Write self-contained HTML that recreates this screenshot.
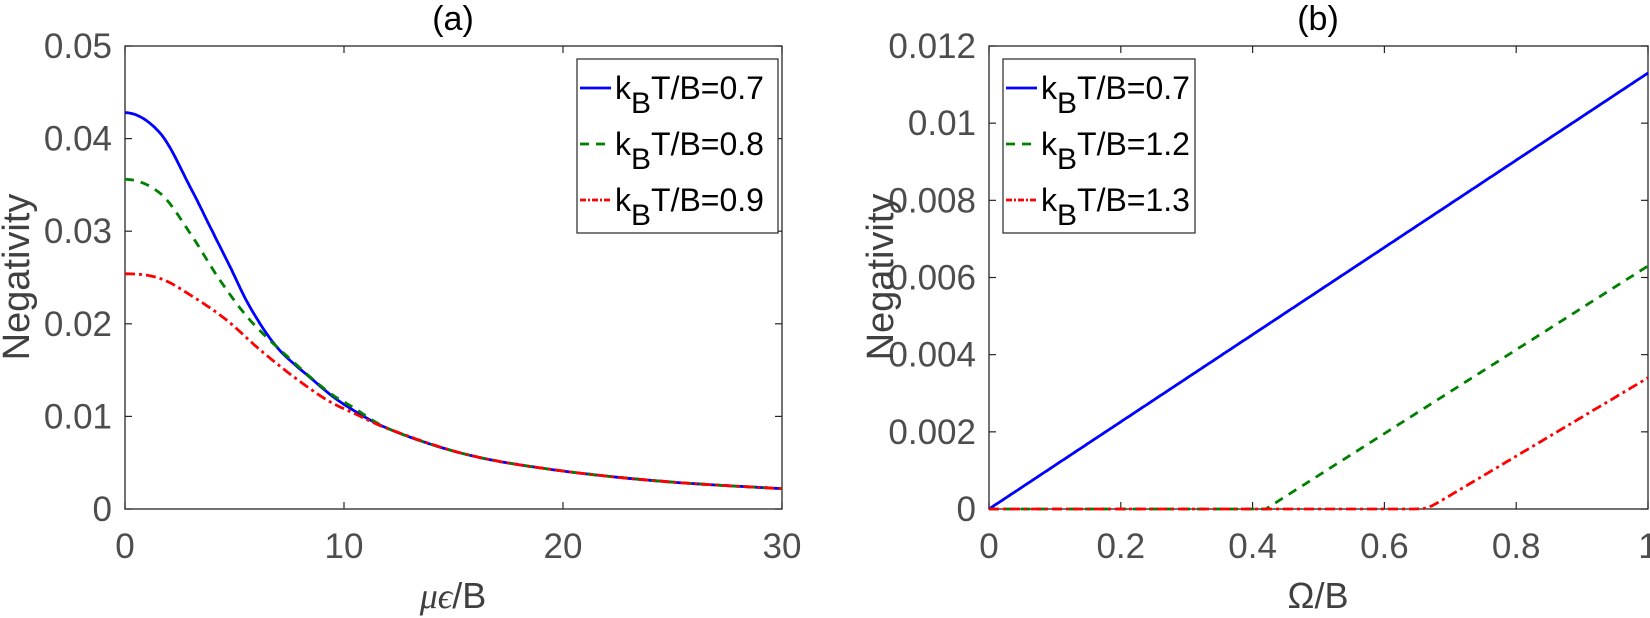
<!DOCTYPE html>
<html><head><meta charset="utf-8"><style>html,body{margin:0;padding:0;background:#fff}svg{display:block}</style></head>
<body>
<svg id="s" width="1650" height="618" viewBox="0 0 1650 618" xmlns="http://www.w3.org/2000/svg" font-family="Liberation Sans, Arial, sans-serif">
<rect width="1650" height="618" fill="#fff"/>
<g id="g"></g>
</svg>
<script>
const NS="http://www.w3.org/2000/svg";const g=document.getElementById('g');
function el(t,a,txt){const e=document.createElementNS(NS,t);for(const k in a)e.setAttribute(k,a[k]);if(txt!==undefined)e.textContent=txt;g.appendChild(e);return e;}
function panel(L,R,T,B,xmin,xmax,xt,xl,ymax,yt,yl){
  el('rect',{x:L,y:T,width:R-L,height:B-T,fill:'none',stroke:'#262626','stroke-width':1.3});
  const X=v=>L+(v-xmin)/(xmax-xmin)*(R-L),Y=v=>B-v/ymax*(B-T);
  xt.forEach((v,i)=>{const x=X(v);el('line',{x1:x,y1:B,x2:x,y2:B-7,stroke:'#262626','stroke-width':1.2});el('line',{x1:x,y1:T,x2:x,y2:T+7,stroke:'#262626','stroke-width':1.2});
    el('text',{x:x,y:558,'text-anchor':'middle','font-size':35,fill:'#4d4d4d'},xl[i]);});
  yt.forEach((v,i)=>{const y=Y(v);el('line',{x1:L,y1:y,x2:L+7,y2:y,stroke:'#262626','stroke-width':1.2});el('line',{x1:R,y1:y,x2:R-7,y2:y,stroke:'#262626','stroke-width':1.2});
    el('text',{x:L-13,y:y+12,'text-anchor':'end','font-size':35,fill:'#4d4d4d'},yl[i]);});
  return [X,Y];
}
function path(pts,color,dash){el('path',{d:'M'+pts.map(p=>p[0].toFixed(1)+','+p[1].toFixed(1)).join('L'),fill:'none',stroke:color,'stroke-width':2.8,'stroke-dasharray':dash||'none'});}
function cr(P,n){ // catmull-rom through points
  const out=[];for(let i=0;i<P.length-1;i++){const p0=P[Math.max(0,i-1)],p1=P[i],p2=P[i+1],p3=P[Math.min(P.length-1,i+2)];
    for(let k=0;k<n;k++){const t=k/n,t2=t*t,t3=t2*t;
      const f=(a,b,c,d)=>0.5*((2*b)+(-a+c)*t+(2*a-5*b+4*c-d)*t2+(-a+3*b-3*c+d)*t3);
      out.push([f(p0[0],p1[0],p2[0],p3[0]),f(p0[1],p1[1],p2[1],p3[1])]);}}
  out.push(P[P.length-1]);return out;}
let [X,Y]=panel(125,782,46,509,0,30,[0,10,20,30],['0','10','20','30'],0.05,[0,0.01,0.02,0.03,0.04,0.05],['0','0.01','0.02','0.03','0.04','0.05']);
const tail=[[12.2,0.0085],[15.75,0.0058],[20,0.0041],[25,0.0029],[30,0.0022]];
const blue=[[-1.6,0.0406],[0,0.0428],[1.6,0.0406],[2.97,0.0348],[3.88,0.0305],[4.79,0.0262],[5.71,0.0218],[6.93,0.0175],[8.45,0.0142],[10,0.0113]].concat(tail);
const green=[[-1.6,0.0341],[0,0.0356],[1.6,0.0341],[2.97,0.0298],[4.34,0.0247],[5.71,0.0204],[7.4,0.0165],[9.2,0.0128],[10.4,0.0110]].concat(tail);
const red=[[-1.6,0.0249],[0,0.0254],[1.6,0.0249],[3.12,0.0229],[4.64,0.0204],[6.16,0.0172],[7.69,0.0143],[9.2,0.0118],[10.4,0.0104]].concat(tail);
[[blue,'#0000ff',null],[green,'#008000','9 7'],[red,'#ff0000','10 4 3 4']].forEach(([P,c,d])=>{
  const pts=cr(P,20).filter(p=>p[0]>=0).map(p=>[X(p[0]),Y(p[1])]);path(pts,c,d);});
[X,Y]=panel(989,1648,46,509,0,1,[0,0.2,0.4,0.6,0.8,1],['0','0.2','0.4','0.6','0.8','1'],0.012,[0,0.002,0.004,0.006,0.008,0.01,0.012],['0','0.002','0.004','0.006','0.008','0.01','0.012']);
function lin(x0,y1,s){const pts=[];for(let i=0;i<=400;i++){const x=i/400;const u=(x-x0)/(1-x0);let v=s>0?s*Math.log(1+Math.exp(u/s)):Math.max(u,0);if(x<x0-3*s)v=0;pts.push([X(x),Y(v*y1)]);}return pts;}
path(lin(0,0.0113,0),'#0000ff');
path(lin(0.42,0.0063,0),'#008000','9 7');
path(lin(0.665,0.0034,0.015),'#ff0000','10 4 3 4');
el('text',{x:453,y:30,'text-anchor':'middle','font-size':34,fill:'#000'},'(a)');
el('text',{x:1318,y:30,'text-anchor':'middle','font-size':34,fill:'#000'},'(b)');
el('text',{x:29,y:277,'text-anchor':'middle','font-size':38,fill:'#404040',transform:'rotate(-90 29 277)'},'Negativity');
el('text',{x:893,y:277,'text-anchor':'middle','font-size':38,fill:'#404040',transform:'rotate(-90 893 277)'},'Negativity');
const xl=el('text',{x:453,y:608,'text-anchor':'middle','font-size':36,fill:'#404040'});
xl.innerHTML='<tspan font-family="Liberation Serif, serif" font-style="italic">μϵ</tspan>/B';
el('text',{x:1318,y:608,'text-anchor':'middle','font-size':36,fill:'#404040'},'Ω/B');
function legend(x0,y0,w,labels){
  el('rect',{x:x0,y:y0,width:w,height:174,fill:'#fff',stroke:'#262626','stroke-width':1.2});
  const st=[['#0000ff',null],['#008000','9 7'],['#ff0000','6 2 2 2']];
  labels.forEach((l,i)=>{const cy=y0+29+i*56;
    el('line',{x1:x0+3,y1:cy,x2:x0+34,y2:cy,stroke:st[i][0],'stroke-width':2.8,'stroke-dasharray':st[i][1]||'none'});
    const t=el('text',{x:x0+38,y:cy+11,'font-size':32,fill:'#000'});
    t.innerHTML='k<tspan dy="14" font-size="30">B</tspan><tspan dy="-14">T/B='+l+'</tspan>';});
}
legend(577,59,201,['0.7','0.8','0.9']);
legend(1003,59,192,['0.7','1.2','1.3']);
</script>
</body></html>
